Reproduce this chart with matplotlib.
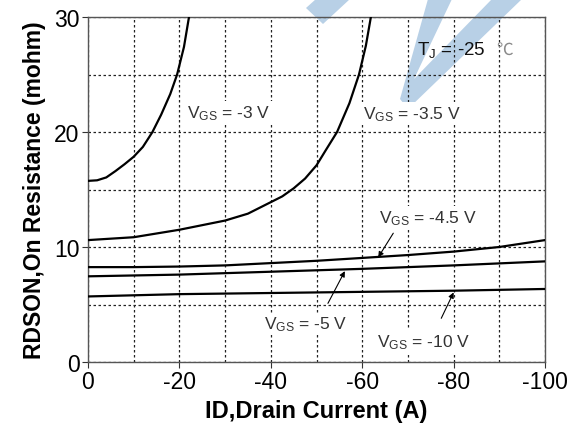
import matplotlib
matplotlib.use("Agg")
import matplotlib.pyplot as plt
from matplotlib.patches import Polygon

plt.rcParams["font.family"] = ["Liberation Sans", "DejaVu Sans"]
plt.rcParams["mathtext.fontset"] = "custom"
plt.rcParams["mathtext.rm"] = "Liberation Sans"
plt.rcParams["mathtext.it"] = "Liberation Sans"
plt.rcParams["axes.unicode_minus"] = False

# curves (ID in A, RDSON in mohm)
id_vgs3 = [0, -2, -4, -6, -8, -10, -12, -13.3, -14.1, -16, -18, -19.5, -21, -22.1]
rds_vgs3 = [15.75, 15.8, 16.05, 16.6, 17.2, 17.85, 18.7, 19.5, 20.0, 21.5, 23.3, 25.0, 27.4, 30.0]

id_vgs35 = [0, -10, -20, -25, -30, -35, -40, -42.5, -45, -47.5, -50, -52, -54.5,
            -57.2, -59.3, -60.8, -61.9]
rds_vgs35 = [10.6, 10.85, 11.5, 11.9, 12.3, 12.9, 13.9, 14.4, 15.1, 15.95, 17.1, 18.4, 20.0,
             22.5, 25.0, 27.5, 30.0]

id_vgs45 = [0, -10, -20, -30, -40, -50, -60, -70, -80, -90, -100]
rds_vgs45 = [8.25, 8.25, 8.3, 8.4, 8.6, 8.8, 9.05, 9.3, 9.6, 10.0, 10.6]

id_vgs5 = [0, -20, -40, -60, -80, -100]
rds_vgs5 = [7.45, 7.6, 7.85, 8.1, 8.4, 8.75]

id_vgs10 = [0, -10, -20, -40, -60, -80, -100]
rds_vgs10 = [5.7, 5.8, 5.9, 6.0, 6.1, 6.2, 6.35]

x_ticks = [0, -20, -40, -60, -80, -100]
x_grid = [-10, -30, -50, -70, -90]
y_ticks = [0, 10, 20, 30]
y_grid = [5, 15, 25]

# watermark outline in image pixels (571x427)
mark_a = [(306, 9), (316, 0), (350, 0), (323, 25)]
mark_b = [(428, 0), (452, 0), (414, 80), (492, 0), (522, 0), (408, 110), (400, 100)]

W, H = 571, 427
fig = plt.figure(figsize=(W / 100, H / 100), dpi=100)
ax = fig.add_axes([88 / W, 1 - 363 / H, (545 - 88) / W, (363 - 18) / H])
ax.set_zorder(2)
ax.patch.set_alpha(0)

for pts in (mark_a, mark_b):
    poly = Polygon([(x / W, 1 - y / H) for x, y in pts], closed=True,
                   transform=fig.transFigure, facecolor="#b8d0e6",
                   edgecolor="none", zorder=1)
    fig.patches.append(poly)

for xs, ys in [(id_vgs3, rds_vgs3), (id_vgs35, rds_vgs35), (id_vgs45, rds_vgs45),
               (id_vgs5, rds_vgs5), (id_vgs10, rds_vgs10)]:
    ax.plot(xs, ys, color="black", lw=1.6, zorder=3)

ax.set_xlim(0, -100)
ax.set_ylim(0, 30)
ax.set_xticks(x_ticks)
ax.set_xticks(x_grid, minor=True)
ax.set_yticks(y_ticks)
ax.set_yticks(y_grid, minor=True)
ax.tick_params(which="major", direction="out", length=4, width=0.8,
               labelsize=16.5, colors="#333333", labelcolor="black", pad=2)
ax.tick_params(which="minor", length=0)
ax.grid(True, which="both", color="#222222", lw=0.9, linestyle=(0, (2, 2)), zorder=1)
ax.set_axisbelow(True)
for s in ax.spines.values():
    s.set_color("#555555")
    s.set_linewidth(1.0)

ax.set_xlabel("ID,Drain Current (A)", fontsize=17, fontweight="bold", labelpad=4)
ax.set_ylabel("RDSON,On Resistance (mohm)", fontsize=16.5, fontweight="bold", labelpad=6)

box = dict(facecolor="white", edgecolor="none", pad=1.5)
txt_kw = dict(fontsize=12.5, color="#333333", ha="left", va="center", bbox=box, zorder=4)
ax.text(-21.7, 21.7, r"V$_{\mathrm{GS}}$ = -3 V", **txt_kw)
ax.text(-60.2, 21.6, r"V$_{\mathrm{GS}}$ = -3.5 V", **txt_kw)
ax.text(-63.6, 12.55, r"V$_{\mathrm{GS}}$ = -4.5 V", **txt_kw)
ax.text(-38.6, 3.3, r"V$_{\mathrm{GS}}$ = -5 V", **txt_kw)
ax.text(-63.2, 1.8, r"V$_{\mathrm{GS}}$ = -10 V", **txt_kw)

ax.text(-72, 27.2, r"T$_{\mathrm{J}}$ = -25", fontsize=13.5, color="#111111",
        ha="left", va="center", zorder=4)
ax.text(-89.3, 27.2, "℃", fontsize=12, color="#8a8a8a", ha="left", va="center",
        family=["Noto Sans CJK SC", "DejaVu Sans"], zorder=4)

arrow = dict(arrowstyle="-|>", color="black", lw=0.8, mutation_scale=8,
             shrinkA=0, shrinkB=0)
ax.annotate("", xy=(-63.5, 9.1), xytext=(-66.8, 11.2), arrowprops=arrow, zorder=5)
ax.annotate("", xy=(-56.2, 7.9), xytext=(-52.5, 5.1), arrowprops=arrow, zorder=5)
ax.annotate("", xy=(-80.0, 6.05), xytext=(-77.3, 3.8), arrowprops=arrow, zorder=5)

fig.savefig("out.png", dpi=100)
